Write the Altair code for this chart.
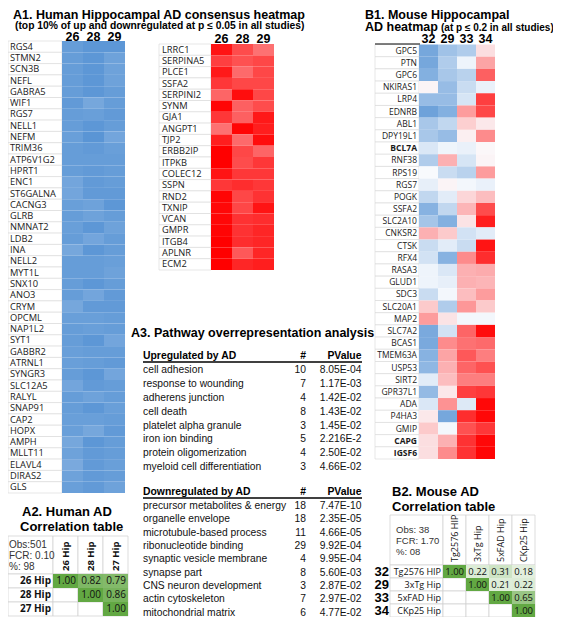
import altair as alt
import pandas as pd

# ---------------- data ----------------
human_cols = ["26", "28", "29"]

down_genes = ["RGS4", "STMN2", "SCN3B", "NEFL", "GABRA5", "WIF1", "RGS7", "NELL1", "NEFM", "TRIM36",
              "ATP6V1G2", "HPRT1", "ENC1", "ST6GALNA", "CACNG3", "GLRB", "NMNAT2", "LDB2", "INA", "NELL2",
              "MYT1L", "SNX10", "ANO3", "CRYM", "OPCML", "NAP1L2", "SYT1", "GABBR2", "ATRNL1", "SYNGR3",
              "SLC12A5", "RALYL", "SNAP91", "CAP2", "HOPX", "AMPH", "MLLT11", "ELAVL4", "DIRAS2", "GLS"]
down_26 = [-0.9, -0.9, -0.9, -0.9, -0.9, -0.92, -0.9, -0.9, -0.88, -0.9,
           -0.9, -0.9, -0.82, -0.82, -0.88, -0.9, -0.88, -0.9, -0.8, -0.9,
           -0.9, -0.9, -0.9, -0.8, -0.88, -0.9, -0.9, -0.88, -0.88, -0.9,
           -0.82, -0.9, -0.9, -0.88, -0.88, -0.8, -0.85, -0.78, -0.85, -0.88]
down_28 = [-0.95, -0.95, -0.95, -0.95, -0.95, -0.8, -0.88, -0.95, -0.97, -0.92,
           -0.9, -0.92, -0.92, -0.92, -0.85, -0.85, -0.95, -0.82, -0.95, -0.9,
           -0.9, -0.95, -0.82, -0.92, -0.88, -0.88, -0.95, -0.9, -0.9, -0.95,
           -0.92, -0.85, -0.95, -0.88, -0.8, -0.95, -0.92, -0.92, -0.92, -0.92]
down_29 = [-0.95, -0.85, -0.85, -0.85, -0.9, -0.9, -0.92, -0.9, -0.82, -0.88,
           -0.9, -0.9, -0.9, -0.92, -0.95, -0.9, -0.85, -0.9, -0.9, -0.88,
           -0.85, -0.9, -0.92, -0.92, -0.9, -0.9, -0.82, -0.9, -0.92, -0.82,
           -0.9, -0.9, -0.88, -0.9, -0.92, -0.9, -0.9, -0.88, -0.9, -0.85]

up_genes = ["LRRC1", "SERPINA5", "PLCE1", "SSFA2", "SERPINI2", "SYNM", "GJA1", "ANGPT1", "TJP2", "ERBB2IP",
            "ITPKB", "COLEC12", "SSPN", "RND2", "TXNIP", "VCAN", "GMPR", "ITGB4", "APLNR", "ECM2"]
up_26 = [0.92, 0.75, 0.9, 0.78, 0.6, 0.98, 0.78, 0.55, 0.88, 1.0,
         1.0, 0.92, 0.78, 0.98, 0.97, 0.97, 0.98, 1.0, 1.0, 1.0]
up_28 = [0.7, 0.68, 0.58, 0.72, 0.95, 0.62, 0.62, 0.98, 0.58, 0.72,
         0.7, 0.78, 0.82, 0.72, 0.72, 0.8, 0.8, 0.82, 0.65, 0.85]
up_29 = [0.55, 0.72, 0.72, 0.72, 0.72, 0.7, 0.9, 0.88, 0.95, 0.6,
         0.78, 0.78, 0.78, 0.8, 0.92, 0.82, 0.85, 0.85, 0.85, 0.88]

mouse_cols = ["32", "29", "33", "34"]
mouse_genes = ["GPC5", "PTN", "GPC6", "NKIRAS1", "LRP4", "EDNRB", "ABL1", "DPY19L1", "BCL7A", "RNF38",
               "RPS19", "RGS7", "POGK", "SSFA2", "SLC2A10", "CNKSR2", "CTSK", "RFX4", "RASA3", "GLUD1",
               "SDC3", "SLC20A1", "MAP2", "SLC7A2", "BCAS1", "TMEM63A", "USP53", "SIRT2", "GPR37L1", "ADA",
               "P4HA3", "GMIP", "CAPG", "IGSF6"]
bold_mouse_genes = ["BCL7A", "CAPG", "IGSF6"]
m_32 = [-0.8, -0.8, -0.72, 0.03, -0.6, -0.85, -0.5, -0.5, -0.2, -0.45,
        -0.02, -0.12, -0.35, -0.7, -0.52, 0.3, -0.3, -0.25, -0.08, -0.08,
        -0.3, 0.2, 0.38, -0.78, -0.78, -0.7, -0.65, -0.15, -0.62, -0.2,
        0.08, 0.2, 0.12, 0.12]
m_29 = [-0.55, -0.45, -0.5, -0.6, -0.6, -0.72, -0.35, -0.6, -0.07, 0.3,
        -0.3, 0.03, -0.15, -0.35, -0.72, 0.2, -0.15, -0.7, -0.2, -0.12,
        -0.05, -0.45, 0.1, -0.25, 0.45, 0.35, 0.3, 0.25, 0.08, 0.42,
        -0.8, -0.05, 0.3, 0.45]
m_33 = [-0.45, -0.08, -0.4, -0.3, -0.22, 0.38, 0.18, 0.05, -0.1, -0.22,
        -0.4, -0.05, 0.15, 0.28, 0.1, -0.25, -0.3, 0.45, 0.3, 0.3,
        0.25, 0.4, -0.05, 0.6, 0.55, 0.65, 0.6, 0.5, 0.75, -0.18,
        0.82, 0.68, 0.8, 0.8]
m_34 = [0.12, 0.35, 0.62, -0.1, 0.75, 0.72, 0.08, 0.45, 0.02, 0.03,
        0.38, -0.1, 0.25, 0.7, 0.88, -0.15, 0.92, 0.82, 0.32, 0.28,
        0.38, 0.2, -0.05, 0.95, 0.58, 0.5, 0.68, 0.5, 0.78, 0.97,
        0.97, 0.78, 0.97, 0.98]

up_terms = ["cell adhesion", "response to wounding", "adherens junction", "cell death",
            "platelet alpha granule", "iron ion binding", "protein oligomerization",
            "myeloid cell differentiation"]
up_counts = [10, 7, 4, 8, 3, 5, 4, 3]
up_pvals = ["8.05E-04", "1.17E-03", "1.42E-02", "1.43E-02", "1.45E-02", "2.216E-2", "2.50E-02", "4.66E-02"]

down_terms = ["precursor metabolites & energy", "organelle envelope", "microtubule-based process",
              "ribonucleotide binding", "synaptic vesicle membrane", "synapse part",
              "CNS neuron development", "actin cytoskeleton", "mitochondrial matrix"]
down_counts = [18, 18, 11, 29, 4, 8, 3, 7, 6]
down_pvals = ["7.47E-10", "2.35E-05", "4.66E-05", "9.92E-04", "9.95E-04", "5.60E-03",
              "2.87E-02", "2.97E-02", "4.77E-02"]

human_studies = ["26 Hip", "28 Hip", "27 Hip"]
human_corr = [[1.00, 0.82, 0.79],
              [None, 1.00, 0.86],
              [None, None, 1.00]]
human_stats = ["Obs:501", "FCR: 0.10", "%: 98"]

mouse_models = ["Tg2576 HIP", "3xTg Hip", "5xFAD Hip", "CKp25 Hip"]
mouse_ids = ["32", "29", "33", "34"]
mouse_corr = [[1.00, 0.22, 0.31, 0.18],
              [None, 1.00, 0.21, 0.22],
              [None, None, 1.00, 0.65],
              [None, None, None, 1.00]]
mouse_stats = ["Obs: 38", "FCR: 1.70", "%: 08"]

# ---------------- helpers ----------------
O = 8
ARIAL = "Liberation Sans"
XL = "Open Sans"
one = pd.DataFrame({"a": [0]})
heat_scale = alt.Scale(domain=[-1, 0, 1], range=["#5592d4", "#fbfcfe", "#ff0000"], interpolate="rgb")
green_scale = alt.Scale(domain=[0, 1], range=["#ffffff", "#62a843"], interpolate="rgb")


def P(v):
    return v - O


def band(domain, a, b):
    return alt.Scale(domain=domain, range=[P(a), P(b)], paddingInner=0, paddingOuter=0)


def label(text, x, y, size, bold=True, align="left", font=ARIAL, color="black"):
    return alt.Chart(one).mark_text(text=text, fontSize=size, fontWeight="bold" if bold else "normal",
                                    align=align, baseline="middle", font=font, color=color).encode(
        x=alt.value(P(x)), y=alt.value(P(y)))


def hline(x0, x1, y, width=1.2, color="black"):
    return alt.Chart(one).mark_rule(color=color, strokeWidth=width).encode(
        x=alt.value(P(x0)), x2=alt.value(P(x1)), y=alt.value(P(y)))


def long_heat(genes, cols, series):
    rows = []
    for j, c in enumerate(cols):
        for g, v in zip(genes, series[j]):
            rows.append({"gene": g, "study": c, "v": v})
    return pd.DataFrame(rows)


def heatmap_block(genes, cols, series, lx0, lx1, label_x, label_align, cx0, cx1, y0, y1,
                  head_y, label_size, bold_set=()):
    layers = []
    gdf = pd.DataFrame({"gene": genes, "b": [g in bold_set for g in genes]})
    yenc = alt.Y("gene:N", scale=band(genes, y0, y1), axis=None)
    layers.append(alt.Chart(gdf).mark_rect(fill="white", stroke="#d6d6d6", strokeWidth=0.6).encode(
        x=alt.value(P(lx0)), x2=alt.value(P(lx1)), y=yenc))
    for is_bold in (False, True):
        layers.append(alt.Chart(gdf).transform_filter(alt.datum.b == is_bold).mark_text(
            font=XL, fontSize=label_size, fontWeight="bold" if is_bold else "normal",
            align=label_align, baseline="middle", color="#1a1a1a").encode(
            x=alt.value(P(label_x)), y=yenc, text="gene:N"))
    layers.append(alt.Chart(long_heat(genes, cols, series)).mark_rect().encode(
        x=alt.X("study:N", scale=band(cols, cx0, cx1), axis=None),
        y=yenc,
        color=alt.Color("v:Q", scale=heat_scale, legend=None)))
    layers.append(alt.Chart(pd.DataFrame({"study": cols})).mark_text(
        font=ARIAL, fontSize=12.5, fontWeight="bold", baseline="middle").encode(
        x=alt.X("study:N", scale=band(cols, cx0, cx1), axis=None),
        y=alt.value(P(head_y)), text="study:N"))
    return layers


def pathway_block(title, terms, counts, pvals, head_y, y0, y1):
    layers = [label(title, 143, head_y, 10.4),
              label("#", 306, head_y, 10.4, align="right"),
              label("PValue", 361.5, head_y, 10.4, align="right"),
              hline(143, 362, head_y + 6, 1.3)]
    df = pd.DataFrame({"term": terms, "n": counts, "p": pvals})
    yenc = alt.Y("term:N", scale=band(terms, y0, y1), axis=None)
    for field, x, align in (("term", 143, "left"), ("n", 306, "right"), ("p", 361.5, "right")):
        layers.append(alt.Chart(df).mark_text(font=ARIAL, fontSize=10.3, align=align,
                                              baseline="middle", color="#111").encode(
            x=alt.value(P(x)), y=yenc, text=f"{field}:N"))
    return layers


def corr_block(studies, row_labels, matrix, lab_x0, cx0, cx1, top, head_bot, bot,
               row_label_x, row_font, row_size, row_bold, head_size, head_bold, num_size, dx):
    layers = []
    cells = []
    for i, r in enumerate(row_labels):
        for j, c in enumerate(studies):
            cells.append({"row": r, "col": c, "v": matrix[i][j]})
    cdf = pd.DataFrame(cells)
    xenc = alt.X("col:N", scale=band(studies, cx0, cx1), axis=None)
    yenc = alt.Y("row:N", scale=band(row_labels, head_bot, bot), axis=None)
    grid = "#cfcfcf"
    layers.append(alt.Chart(one).mark_rect(fill="white", stroke=grid, strokeWidth=0.7).encode(
        x=alt.value(P(lab_x0)), x2=alt.value(P(cx0)), y=alt.value(P(top)), y2=alt.value(P(head_bot))))
    layers.append(alt.Chart(pd.DataFrame({"col": studies})).mark_rect(
        fill="white", stroke=grid, strokeWidth=0.7).encode(
        x=xenc, y=alt.value(P(top)), y2=alt.value(P(head_bot))))
    layers.append(alt.Chart(pd.DataFrame({"row": row_labels})).mark_rect(
        fill="white", stroke=grid, strokeWidth=0.7).encode(
        x=alt.value(P(lab_x0)), x2=alt.value(P(cx0)), y=yenc))
    layers.append(alt.Chart(cdf).mark_rect(fill="white", stroke=grid, strokeWidth=0.7).encode(
        x=xenc, y=yenc))
    layers.append(alt.Chart(cdf).transform_filter("isValid(datum.v)").mark_rect().encode(
        x=xenc, y=yenc, color=alt.Color("v:Q", scale=green_scale, legend=None)))
    layers.append(alt.Chart(cdf).transform_filter("isValid(datum.v)").mark_text(
        font=XL, fontSize=num_size, align="right", baseline="middle", dx=dx, color="#111").encode(
        x=xenc, y=yenc, text=alt.Text("v:Q", format=".2f")))
    layers.append(alt.Chart(pd.DataFrame({"row": row_labels})).mark_text(
        font=row_font, fontSize=row_size, fontWeight="bold" if row_bold else "normal",
        align="right", baseline="middle", color="#111").encode(
        x=alt.value(P(row_label_x)), y=yenc, text="row:N"))
    layers.append(alt.Chart(pd.DataFrame({"col": studies})).mark_text(
        font=XL, fontSize=head_size, fontWeight="bold" if head_bold else "normal",
        angle=270, align="left", baseline="middle", color="#111").encode(
        x=xenc, y=alt.value(P(head_bot - 3)), text="col:N"))
    return layers


layers = []

# A1 titles
layers.append(label("A1. Human Hippocampal AD consensus heatmap", 13, 14.5, 12.5))
layers.append(label("(top 10% of up and downregulated at p \u2264 0.05 in all studies)", 15, 25.5, 10.3))

# A1 blue heatmap
layers += heatmap_block(down_genes, human_cols, [down_26, down_28, down_29],
                        8, 62, 10, "left", 62, 125, 41, 493, 36.5, 9.3)
# A1 red heatmap
layers += heatmap_block(up_genes, human_cols, [up_26, up_28, up_29],
                        159, 211, 162, "left", 211, 274, 44, 270, 38.5, 9.3)

# A3 pathway table
layers.append(label("A3. Pathway overrepresentation analysis", 131, 333, 12.5))
layers += pathway_block("Upregulated by AD", up_terms, up_counts, up_pvals, 356, 363, 474.2)
layers += pathway_block("Downregulated by AD", down_terms, down_counts, down_pvals, 492,
                        499.3, 619.5)

# B1 mouse heatmap
layers.append(label("B1. Mouse Hippocampal", 365, 14.5, 12.5))
layers.append(label("AD heatmap", 365, 27, 12.5))
layers.append(label("(at p \u2264 0.2 in all studies)", 441, 27.5, 10))
layers += heatmap_block(mouse_genes, mouse_cols, [m_32, m_29, m_33, m_34],
                        375, 419, 417, "right", 419, 495, 44.5, 459, 38.5, 8.5,
                        bold_set=bold_mouse_genes)
layers.append(hline(375, 420, 44, 1.6, "#555"))

# A2 human correlation table
layers.append(label("A2. Human AD", 22, 512, 13))
layers.append(label("Correlation table", 20, 527, 13))
layers += corr_block(human_studies, human_studies, human_corr, 8, 53, 128, 536, 574, 616,
                     51, XL, 10, True, 9.5, True, 10, 10.5)
for i, s in enumerate(human_stats):
    layers.append(label(s, 9, 545 + 11 * i, 10, bold=False, color="#333"))

# B2 mouse correlation table
layers.append(label("B2. Mouse AD", 392, 492, 13))
layers.append(label("Correlation table", 392, 507, 13))
layers += corr_block(mouse_models, mouse_models, mouse_corr, 390, 443, 535, 515, 565, 617,
                     441, XL, 9, False, 9, False, 9.5, 9.5)
mid_df = pd.DataFrame({"row": mouse_models, "id": mouse_ids})
layers.append(alt.Chart(mid_df).mark_text(font=ARIAL, fontSize=13, fontWeight="bold",
                                          align="right", baseline="middle").encode(
    x=alt.value(P(389)), y=alt.Y("row:N", scale=band(mouse_models, 565, 617), axis=None),
    text="id:N"))
for i, s in enumerate(mouse_stats):
    layers.append(label(s, 396, 530 + 11 * i, 9.5, bold=False, color="#333"))

chart = alt.layer(*layers).resolve_scale(
    x="independent", y="independent", color="independent"
).properties(
    width=545, height=609, autosize=alt.AutoSizeParams(type="none"), padding=0
).configure_view(strokeWidth=0)

chart.save("out.html", embed_options={"renderer": "svg", "actions": False})
